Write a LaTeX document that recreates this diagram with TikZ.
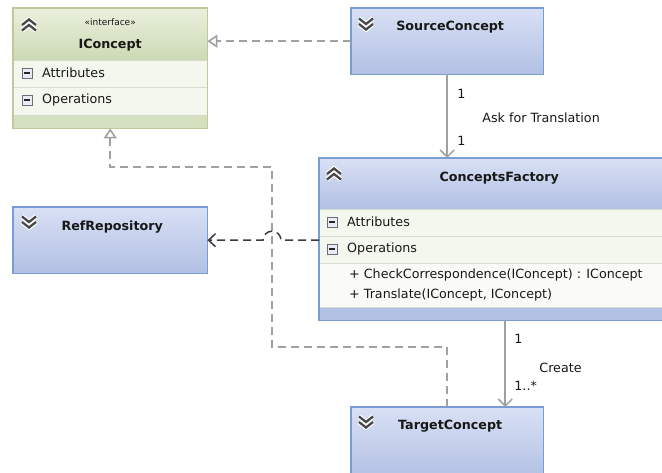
\documentclass[tikz,border=0pt]{standalone}
\usepackage{fontspec}
\setmainfont{DejaVu Sans}
\usepackage{xcolor}
\definecolor{classborder}{RGB}{122, 156, 212}
\definecolor{classtop}{RGB}{216, 224, 244}
\definecolor{classbottom}{RGB}{178, 192, 228}
\definecolor{ifaceborder}{RGB}{196, 198, 156}
\definecolor{ifacetop}{RGB}{234, 240, 222}
\definecolor{ifacebottom}{RGB}{204, 218, 180}
\definecolor{ifaceband}{RGB}{212, 224, 192}
\definecolor{rowfill}{RGB}{244, 247, 238}
\definecolor{opsfill}{RGB}{250, 251, 247}
\definecolor{rowline}{RGB}{212, 220, 204}
\definecolor{connector}{RGB}{160, 160, 160}
\definecolor{depline}{RGB}{60, 60, 60}
\definecolor{inktext}{RGB}{24, 24, 24}
\definecolor{chevcolor}{RGB}{72, 72, 72}
\definecolor{minusborder}{RGB}{104, 110, 124}
\definecolor{minusfill}{RGB}{232, 236, 244}
\usepackage{tikz}
\usetikzlibrary{arrows.meta}
\tikzstyle{classbox} = [shape=rectangle, top color=classtop, bottom color=classbottom, anchor=north west, inner sep=0pt]
\tikzstyle{ifacebox} = [shape=rectangle, fill=ifaceband, anchor=north west, inner sep=0pt]
\tikzstyle{frame} = [line width=1.2pt]
\tikzstyle{title} = [font=\fontsize{12.7}{15}\selectfont\bfseries, text=inktext, inner sep=0pt]
\tikzstyle{member} = [font=\fontsize{12.7}{15}\selectfont, text=inktext, anchor=west, inner sep=0pt]
\tikzstyle{stereo} = [font=\fontsize{9}{11}\selectfont, text=inktext, inner sep=0pt]
\tikzstyle{mult} = [font=\fontsize{12.7}{15}\selectfont, text=inktext, anchor=west, inner sep=0pt]
\tikzstyle{minusbox} = [shape=rectangle, draw=minusborder, fill=minusfill, line width=1pt, minimum size=10pt, inner sep=0pt,
  path picture={\draw[line width=1.4pt, black!85] ([xshift=2.2pt]path picture bounding box.west) -- ([xshift=-2.2pt]path picture bounding box.east);}]
\tikzstyle{chevron} = [draw=chevcolor, line width=2.3pt, line join=miter, preaction={draw=white, line width=4.6pt}]
\tikzstyle{realize} = [draw=connector, line width=1.6pt, dash pattern=on 8pt off 5pt, -{Triangle[open, length=10pt, width=13pt, fill=white]}]
\tikzstyle{depend} = [draw=depline, line width=1.5pt, dash pattern=on 8pt off 5pt, -{Straight Barb[length=7pt, width=13pt]}]
\tikzstyle{assoc} = [draw=connector, line width=1.5pt, -{Straight Barb[length=7pt, width=14pt]}]
\newcommand{\chevup}[1]{\path (#1) coordinate (chevpos);
  \foreach \dy in {-6.5,-1}{\draw[chevron] ([shift={(-7pt,\dy pt)}]chevpos) -- ++(7pt,5.5pt) -- ++(7pt,-5.5pt);}}
\newcommand{\chevdown}[1]{\path (#1) coordinate (chevpos);
  \foreach \dy in {1,6.5}{\draw[chevron] ([shift={(-7pt,\dy pt)}]chevpos) -- ++(7pt,-5.5pt) -- ++(7pt,5.5pt);}}

\begin{document}
\begin{tikzpicture}[x=1pt, y=-1pt]
  \fill[white] (0,0) rectangle (662,472);
  \useasboundingbox (0,0) rectangle (662,472);

  % interface
  \node[ifacebox, minimum width=194pt, minimum height=120pt] (iconcept) at (13,8) {};
  \shade[top color=ifacetop, bottom color=ifacebottom] (iconcept.north west) rectangle ([yshift=-52pt]iconcept.north east);
  \fill[rowfill] ([yshift=-52pt]iconcept.north west) rectangle ([yshift=-107pt]iconcept.north east);
  \foreach \ry in {52,79,107}
    \draw[rowline] ([yshift=-\ry pt]iconcept.north west) -- ([yshift=-\ry pt]iconcept.north east);
  \draw[frame, draw=ifaceborder] (iconcept.north west) rectangle (iconcept.south east);
  \chevup{[shift={(16pt,-16pt)}]iconcept.north west}
  \node[stereo] (iconcept-stereo) at ([yshift=-14pt]iconcept.north) {«interface»};
  \node[title] (iconcept-title) at ([yshift=-37pt]iconcept.north) {IConcept};
  \node[minusbox] (iconcept-attr-icon) at ([shift={(14pt,-65pt)}]iconcept.north west) {};
  \node[member] (iconcept-attr) at ([shift={(29pt,-65pt)}]iconcept.north west) {Attributes};
  \node[minusbox] (iconcept-ops-icon) at ([shift={(14pt,-92pt)}]iconcept.north west) {};
  \node[member] (iconcept-ops) at ([shift={(29pt,-92pt)}]iconcept.north west) {Operations};

  % source
  \node[classbox, minimum width=192pt, minimum height=66pt] (source) at (351,8) {};
  \draw[frame, draw=classborder] (source.north west) rectangle (source.south east);
  \chevdown{[shift={(15pt,-17pt)}]source.north west}
  \node[title] (source-title) at ([shift={(3pt,-19pt)}]source.north) {SourceConcept};

  % factory
  \node[classbox, minimum width=372pt, minimum height=162pt] (factory) at (319,158) {};
  \fill[classbottom] (factory.north west) rectangle (factory.south east);
  \shade[top color=classtop, bottom color=classbottom] (factory.north west) rectangle ([yshift=-51pt]factory.north east);
  \fill[rowfill] ([yshift=-51pt]factory.north west) rectangle ([yshift=-105pt]factory.north east);
  \fill[opsfill] ([yshift=-105pt]factory.north west) rectangle ([yshift=-149pt]factory.north east);
  \foreach \ry in {51,78,105,149}
    \draw[rowline] ([yshift=-\ry pt]factory.north west) -- ([yshift=-\ry pt]factory.north east);
  \draw[frame, draw=classborder] (factory.north west) rectangle (factory.south east);
  \chevup{[shift={(15pt,-15pt)}]factory.north west}
  \node[title] (factory-title) at ([shift={(-6pt,-20pt)}]factory.north) {ConceptsFactory};
  \node[minusbox] (factory-attr-icon) at ([shift={(13pt,-64pt)}]factory.north west) {};
  \node[member] (factory-attr) at ([shift={(28pt,-64pt)}]factory.north west) {Attributes};
  \node[minusbox] (factory-ops-icon) at ([shift={(13pt,-91pt)}]factory.north west) {};
  \node[member] (factory-ops) at ([shift={(28pt,-91pt)}]factory.north west) {Operations};
  \node[member] (factory-check) at ([shift={(30pt,-117pt)}]factory.north west) {+ CheckCorrespondence(IConcept) : IConcept};
  \node[member] (factory-translate) at ([shift={(30pt,-137pt)}]factory.north west) {+ Translate(IConcept, IConcept)};

  % repository
  \node[classbox, minimum width=194pt, minimum height=66pt] (ref) at (13,207) {};
  \draw[frame, draw=classborder] (ref.north west) rectangle (ref.south east);
  \chevdown{[shift={(16pt,-16pt)}]ref.north west}
  \node[title] (ref-title) at ([shift={(2pt,-20pt)}]ref.north) {RefRepository};

  % target
  \node[classbox, minimum width=192pt, minimum height=72pt] (target) at (351,407) {};
  \draw[frame, draw=classborder] (target.north west) rectangle (target.south east);
  \chevdown{[shift={(15pt,-16pt)}]target.north west}
  \node[title] (target-title) at ([shift={(3pt,-19pt)}]target.north) {TargetConcept};

  % connectors
  \coordinate (bend1) at (272,347);
  \coordinate (bend2) at (272,167);
  \coordinate (jump) at (bend1 |- ref.east);
  \draw[realize] (source.west) -- (source.west -| iconcept.east);
  \draw[realize] (target.north) |- (bend1) -- (bend2) -| (iconcept.south);
  \draw[depend] (ref.east -| factory.west) -- ([xshift=9pt]jump) arc[start angle=0, end angle=180, radius=9pt] -- (ref.east);
  \draw[assoc] (source.south) -- (source.south |- factory.north);
  \draw[assoc] (factory.south) -- (factory.south |- target.north);

  % multiplicities
  \node[mult] (ask-from) at ([shift={(10pt,-19pt)}]source.south) {1};
  \node[mult] (ask-label) at ([shift={(35pt,-43pt)}]source.south) {Ask for Translation};
  \node[mult] (ask-to) at ([shift={(10pt,-66pt)}]source.south) {1};
  \node[mult] (create-from) at ([shift={(9pt,-18pt)}]factory.south) {1};
  \node[mult] (create-label) at ([shift={(34pt,-47pt)}]factory.south) {Create};
  \node[mult] (create-to) at ([shift={(9pt,-65pt)}]factory.south) {1..*};
\end{tikzpicture}
\end{document}
